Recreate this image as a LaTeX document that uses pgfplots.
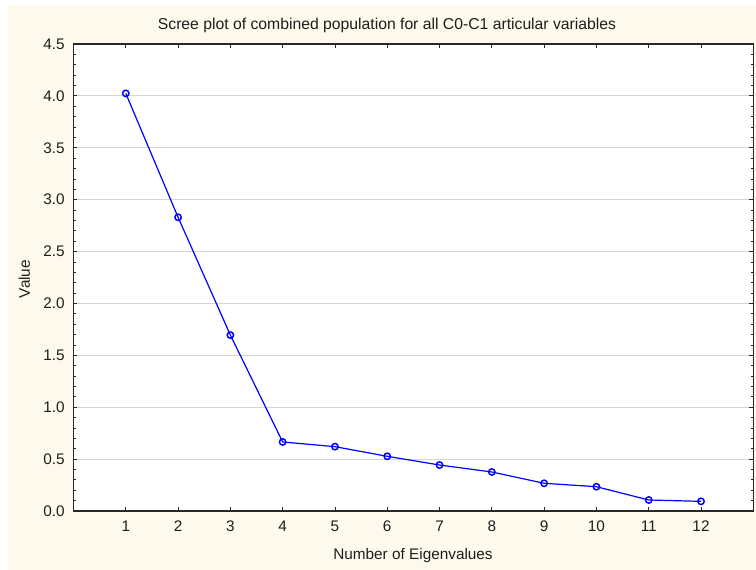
\documentclass[border=0pt]{standalone}
\usepackage{fontspec}
\setmainfont{Liberation Sans}
\usepackage{pgfplots}
\pgfplotsset{compat=1.18}
\definecolor{cream}{RGB}{254,249,237}
\definecolor{axisgray}{RGB}{40,40,40}
\definecolor{txt}{RGB}{30,30,30}
\begin{document}
\begin{tikzpicture}
\path[use as bounding box] (-55.125pt,-44.25pt) rectangle (511.875pt,383.25pt);
\fill[cream] (-49.125pt,-44.25pt) rectangle (511.875pt,379.5pt);
\begin{axis}[
  at={(0,0)}, anchor=south west,
  scale only axis,
  width=509.85pt, height=350.25pt,
  xmin=0, xmax=13, ymin=0, ymax=4.5,
  xtick={1,...,12},
  ytick={0,0.5,...,4.5},
  minor y tick num=4,
  /pgf/number format/assume math mode=true,
  tick align=inside,
  major tick length=3pt,
  minor tick length=2pt,
  tick style={axisgray, line width=0.6pt},
  axis line style={axisgray, line width=1.1pt},
  axis background/.style={fill=white},
  ymajorgrids=true,
  major grid style={black!17, line width=0.8pt},
  ticklabel style={font=\fontsize{11.5}{13}\selectfont, text=txt},
  yticklabel style={inner sep=0pt, xshift=-6.4pt, /pgf/number format/fixed, /pgf/number format/fixed zerofill, /pgf/number format/precision=1},
  xticklabel style={inner sep=0pt, yshift=-7.5pt},
  clip=false,
]
\addplot[color=blue, line width=0.9pt, mark=o, mark size=2.4pt, mark options={line width=1.1pt, blue}]
  coordinates {
  (1,4.024) (2,2.83) (3,1.695) (4,0.665) (5,0.62) (6,0.527)
  (7,0.443) (8,0.376) (9,0.267) (10,0.234) (11,0.106) (12,0.093)
  };
\node[font=\fontsize{11.8}{13}\selectfont, text=txt] at (axis description cs:0.4612,1.0407) {Scree plot of combined population for all C0-C1 articular variables};
\node[font=\fontsize{11.5}{13}\selectfont, text=txt, anchor=base] at (axis description cs:0.4994,-0.1049) {Number of Eigenvalues};
\node[font=\fontsize{11.5}{13}\selectfont, text=txt, rotate=90] at (axis description cs:-0.0721,0.4968) {Value};
\end{axis}
\end{tikzpicture}
\end{document}
